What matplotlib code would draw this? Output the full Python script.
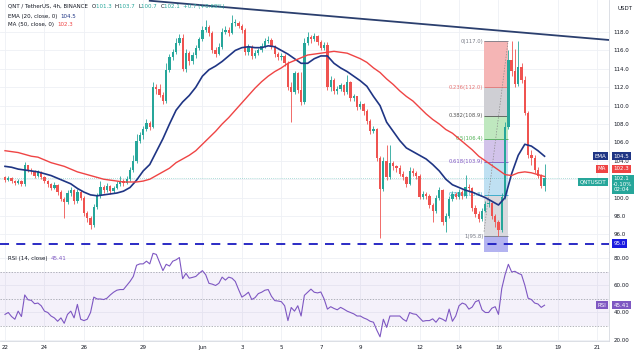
import numpy as np
import pandas as pd
import matplotlib
matplotlib.use('Agg')
import matplotlib.pyplot as plt
import matplotlib.dates as mdates
import matplotlib.transforms as mtransforms

# 4h candles, QNT/USDT
first_open = 102.2
closes = [101.9, 102.1, 101.8, 101.6, 101.8, 101.5, 103.5, 103.0, 102.9, 102.3,
          102.8, 102.2, 101.8, 101.5, 101.1, 101.4, 100.6, 99.9, 99.5, 100.5,
          100.8, 99.6, 100.6, 100.0, 98.3, 97.8, 97.0, 99.0, 100.2, 101.2,
          100.8, 101.3, 100.7, 101.1, 101.5, 101.8, 101.6, 102.0, 103.0, 104.0,
          106.2, 106.8, 107.5, 108.1, 107.7, 112.0, 111.8, 111.2, 110.5, 113.9,
          115.3, 115.8, 116.8, 117.3, 114.0, 115.7, 114.8, 115.5, 116.3, 117.2,
          118.2, 118.5, 117.9, 116.0, 115.6, 116.4, 118.0, 118.2, 117.9, 119.0,
          119.0, 118.7, 118.2, 115.8, 116.4, 115.4, 115.7, 116.0, 116.5, 117.0,
          117.1, 116.4, 115.6, 115.3, 115.4, 114.6, 112.0, 111.5, 113.5, 111.7,
          110.4, 116.8, 117.5, 117.2, 117.6, 116.9, 116.3, 116.6, 112.0, 112.8,
          111.6, 111.8, 112.2, 111.5, 112.6, 110.8, 111.0, 109.8, 110.2, 109.4,
          108.3, 107.2, 107.5, 104.3, 100.9, 104.0, 102.2, 103.8, 103.4, 103.2,
          102.6, 102.2, 101.5, 102.9, 102.7, 102.4, 100.1, 100.4, 100.2, 99.2,
          98.5, 100.0, 100.8, 97.3, 98.0, 99.9, 100.4, 100.1, 100.6, 100.2,
          101.2, 101.0, 98.9, 98.2, 97.7, 98.6, 99.3, 99.4, 98.0, 97.4,
          96.5, 100.1, 107.7, 115.0, 113.8, 112.3, 114.2, 112.8, 109.2, 104.6,
          104.3, 103.0, 102.4, 101.3, 102.1]
highs = [102.4, 102.3, 102.2, 101.9, 102.0, 101.9, 103.9, 103.6, 103.2, 103.0,
         103.0, 102.9, 102.4, 101.9, 101.6, 101.7, 101.5, 100.8, 100.1, 100.8,
         101.2, 100.9, 100.9, 100.8, 100.2, 98.6, 98.0, 99.3, 100.5, 101.8,
         101.4, 101.6, 101.4, 101.3, 101.8, 102.3, 102.0, 102.3, 103.3, 104.6,
         106.9, 107.1, 107.8, 108.5, 108.3, 112.6, 112.3, 112.4, 111.5, 114.6,
         115.6, 116.1, 117.3, 117.8, 117.8, 116.2, 115.9, 115.8, 116.6, 117.5,
         118.6, 119.3, 118.8, 118.1, 116.4, 116.8, 118.4, 118.7, 118.5, 119.8,
         119.4, 119.2, 118.9, 118.4, 116.7, 116.6, 116.0, 116.3, 116.8, 117.3,
         117.6, 117.4, 116.6, 115.8, 115.7, 115.6, 114.8, 112.6, 113.8, 113.7,
         113.6, 117.3, 118.0, 117.7, 117.9, 117.7, 117.1, 116.9, 116.9, 113.2,
         113.0, 112.1, 112.5, 112.4, 113.3, 112.7, 111.3, 111.1, 110.5, 110.3,
         109.6, 108.5, 107.8, 107.6, 104.5, 104.4, 105.7, 105.7, 104.0, 103.6,
         103.5, 102.9, 102.4, 103.3, 103.2, 102.9, 102.6, 100.7, 100.6, 100.4,
         99.4, 100.3, 101.2, 100.9, 98.3, 100.2, 100.7, 100.6, 100.9, 100.8,
         102.5, 101.5, 101.2, 99.2, 98.5, 98.9, 99.6, 99.8, 99.5, 98.2,
         97.6, 100.5, 108.2, 116.0, 117.0, 116.2, 117.0, 114.6, 113.2, 109.4,
         105.2, 104.6, 103.3, 102.6, 103.7]
lows = [101.7, 101.8, 101.6, 101.4, 101.5, 101.3, 101.3, 102.8, 102.6, 102.1,
        102.2, 102.0, 101.6, 101.2, 100.8, 100.9, 100.3, 99.6, 97.8, 99.3,
        100.2, 99.3, 99.4, 99.7, 98.0, 97.4, 96.6, 96.8, 98.8, 100.0,
        100.5, 100.6, 100.4, 100.5, 100.9, 101.3, 101.3, 101.5, 101.8, 102.8,
        103.8, 105.9, 106.4, 107.2, 107.3, 107.6, 111.3, 110.9, 110.2, 110.3,
        113.6, 115.0, 115.6, 116.6, 113.8, 113.7, 114.4, 114.5, 115.2, 116.0,
        117.0, 118.0, 117.6, 115.7, 115.3, 115.5, 116.2, 117.8, 117.6, 117.8,
        118.6, 118.4, 117.9, 115.5, 115.5, 115.1, 115.2, 115.5, 115.8, 116.3,
        116.8, 116.2, 115.3, 115.0, 115.0, 114.3, 111.7, 108.2, 111.3, 111.4,
        110.1, 110.2, 116.6, 116.8, 117.0, 116.6, 116.0, 116.0, 111.7, 111.6,
        111.3, 111.3, 111.6, 111.2, 111.3, 110.5, 110.5, 109.5, 109.6, 109.0,
        108.0, 106.9, 107.0, 104.0, 95.6, 100.7, 101.9, 102.0, 103.0, 102.8,
        102.3, 101.9, 101.2, 101.4, 102.4, 102.0, 99.8, 99.9, 99.9, 98.9,
        97.3, 98.3, 99.7, 97.0, 96.3, 97.8, 99.6, 99.8, 99.9, 99.9,
        100.0, 100.6, 98.6, 97.9, 97.4, 97.5, 98.4, 99.0, 97.7, 96.8,
        95.8, 96.3, 99.8, 107.5, 113.2, 112.0, 112.1, 112.5, 109.0, 104.3,
        103.6, 102.7, 102.1, 101.0, 100.7]

# EMA(20) and MA(50), read every second candle
ema20 = [103.4, 103.3, 103.1, 103.0, 102.9, 102.8, 102.6, 102.4, 102.1, 101.8,
         101.5, 101.0, 100.6, 100.3, 100.2, 100.3, 100.4, 100.5, 100.7, 101.1,
         101.9, 102.9, 103.6, 105.0, 106.4, 108.0, 109.5, 110.4, 111.1, 112.0,
         113.2, 113.9, 114.3, 114.8, 115.4, 116.0, 116.3, 116.4, 116.3, 116.3,
         116.5, 116.4, 116.0, 115.6, 115.1, 114.6, 114.6, 115.1, 115.4, 115.4,
         114.6, 114.1, 113.7, 113.2, 112.7, 112.1, 111.0, 110.0, 108.2, 107.2,
         106.2, 105.4, 105.0, 104.6, 104.2, 103.6, 102.9, 102.0, 101.4, 101.1,
         100.8, 100.6, 100.3, 100.0, 99.6, 99.2, 100.0, 102.6, 104.6, 105.8,
         105.6, 105.1, 104.5]
ma50 = [105.1, 105.0, 104.9, 104.7, 104.5, 104.4, 104.1, 103.8, 103.6, 103.4,
        103.1, 102.8, 102.6, 102.4, 102.2, 102.0, 101.9, 101.8, 101.7, 101.7,
        101.7, 101.8, 102.0, 102.4, 102.8, 103.2, 103.8, 104.2, 104.6, 105.1,
        105.8, 106.5, 107.2, 108.0, 108.7, 109.5, 110.3, 111.1, 111.9, 112.6,
        113.2, 113.7, 114.1, 114.6, 114.9, 115.2, 115.5, 115.6, 115.7, 115.8,
        115.9, 115.8, 115.7, 115.4, 115.1, 114.7, 114.1, 113.6, 112.9, 112.3,
        111.6, 111.0, 110.5, 109.8, 109.1, 108.5, 108.0, 107.4, 107.0, 106.4,
        105.8, 105.2, 104.5, 104.0, 103.5, 103.0, 102.5, 102.4, 102.7, 102.8,
        102.7, 102.5, 102.3]

rsi = [38.6, 40, 37, 35, 41, 37, 53, 49.4, 49, 46.5,
       47, 45, 41, 40, 37.4, 36, 33.5, 36, 32, 38.6,
       41, 36, 46, 35, 34, 35, 40, 51.4, 50, 50,
       49.6, 50.6, 53, 55, 56.5, 57, 57, 60, 63, 66.7,
       75, 76, 76, 78, 76, 83.8, 83, 77, 71, 75.7,
       74.4, 78, 79, 80.7, 65, 69, 65.4, 66, 66.7, 69,
       71, 68, 61.6, 61, 60, 61.6, 66.2, 64, 66.2, 65.4,
       63, 57, 51.4, 53, 55, 49.6, 51, 54, 55, 56.5,
       57, 52, 48.8, 48.5, 48, 45, 34, 43.7, 41, 45,
       37.4, 52.7, 55, 57.3, 55, 54.5, 55.2, 50, 42.5, 44.3,
       43, 42, 43.8, 42.5, 41, 40, 39, 37.4, 37.4, 36,
       35, 33.5, 32.8, 27, 22, 35, 29, 37.4, 37.4, 37.4,
       37.4, 35, 33.5, 40, 39, 38.6, 36, 33.5, 34, 34,
       35.3, 32.8, 36, 35, 33.5, 42.5, 33.5, 37.4, 45, 47,
       46, 42.5, 44, 48, 49, 42, 40, 40, 43.2, 44.3,
       38.6, 57.8, 68, 75.7, 70, 70.5, 69, 68, 60.3, 50.6,
       49.6, 47, 46.3, 43.8, 45.41]

fib_ratios = ['0', '0.236', '0.382', '0.5', '0.618', '0.786', '1']
fib_prices = [117.0, 112.0, 108.9, 106.4, 103.9, 100.3, 95.8]
fib_ext = 90.0
fib_start = '2022-06-15 06:24'
fib_end = '2022-06-16 11:36'
trend_pts = [('2022-05-29 08:00', 121.4), ('2022-06-22 08:00', 117.0)]
support = 95.0
last_price = 102.1

date_ticks = ['2022-05-22', '2022-05-24', '2022-05-26', '2022-05-29', '2022-06-01',
              '2022-06-03', '2022-06-05', '2022-06-07', '2022-06-09', '2022-06-12',
              '2022-06-14', '2022-06-16', '2022-06-19', '2022-06-21']
date_labels = ['22', '24', '26', '29', 'Jun', '3', '5', '7', '9', '12', '14', '16', '19', '21']
price_ticks = [96, 98, 100, 102, 104, 106, 108, 110, 112, 114, 116, 118]
price_labels = ['96.0', '98.0', '100.0', '', '104.0', '106.0', '108.0', '110.0',
                '112.0', '114.0', '116.0', '118.0']

UP, DOWN = '#26a69a', '#ef5350'
NAVY, RED, PURPLE, TXT = '#1f3584', '#ef4444', '#7e57c2', '#131722'
FS = 4

times = pd.date_range('2022-05-22 00:00', periods=len(closes), freq='4h')
x = mdates.date2num(times)
step = 4 / 24
opens = np.array([first_open] + closes[:-1])
closes_a = np.array(closes)
up = closes_a >= opens
colors = np.where(up, UP, DOWN)

fig = plt.figure(figsize=(6.4, 3.6), dpi=100)
ax = fig.add_axes([0, 0.3, 0.9516, 0.7])
rax = fig.add_axes([0, 0.0528, 0.9516, 0.2472], sharex=ax)

xmin = x[0] - 1.52 * step
xmax = x[0] + 183.6 * step
ax.set_xlim(xmin, xmax)
ax.set_ylim(94.09, 121.48)
rax.set_ylim(18.9, 84.8)

for a in (ax, rax):
    a.set_axisbelow(True)
    a.grid(color='#eef0f5', lw=0.6)
    for s in ('top', 'left'):
        a.spines[s].set_visible(False)
    for s in ('right', 'bottom'):
        a.spines[s].set_color('#d6d9e0')
        a.spines[s].set_linewidth(0.6)
    a.yaxis.tick_right()
    a.tick_params(axis='both', length=0, labelsize=FS, labelcolor=TXT, pad=3)

tick_x = mdates.date2num(pd.to_datetime(date_ticks))
rax.set_xticks(tick_x)
rax.set_xticklabels(date_labels)
ax.tick_params(axis='x', labelbottom=False)
ax.set_yticks(price_ticks)
ax.set_yticklabels(price_labels)
rax.set_yticks([20, 40, 60, 80])
rax.yaxis.set_major_formatter(matplotlib.ticker.FormatStrFormatter('%.2f'))

# fibonacci retracement
fx0 = mdates.date2num(pd.Timestamp(fib_start))
fx1 = mdates.date2num(pd.Timestamp(fib_end))
fill_cols = ['#f5b5b5', '#cfcfd4', '#bfe8bf', '#d2c3ea', '#bfe0f2', '#d9d9de']
line_cols = ['#787b86', '#e57373', '#555555', '#4caf50', '#7e57c2', '#26a6c9', '#787b86']
for k in range(len(fib_prices) - 1):
    ax.fill_between([fx0, fx1], fib_prices[k], fib_prices[k + 1], color=fill_cols[k],
                    lw=0, zorder=1)
ax.fill_between([fx0, fx1], fib_prices[-1], fib_ext, color='#b3b3f0', lw=0, zorder=1)
for r, p, c in zip(fib_ratios, fib_prices, line_cols):
    ax.hlines(p, fx0, fx1, color=c, lw=0.6, zorder=1.5)
    ax.text(fx0 - 0.03, p, f'{r}({p:.1f})', ha='right', va='center', fontsize=3.8,
            color=c, zorder=2)
ax.plot([fx0, fx1], [fib_prices[-1] + 0.5, fib_prices[0]], color='#8a8a8a', lw=0.5,
        ls=(0, (2, 2)), zorder=1.6)

# reference lines
ax.axhline(last_price, color=UP, lw=0.5, ls=(0, (1, 2)), alpha=0.7, zorder=1.2)
ax.axhline(support, color='#1a1ac0', lw=1.3, ls=(0, (5, 4)), zorder=2)
tx = mdates.date2num(pd.to_datetime([p[0] for p in trend_pts]))
ax.plot(tx, [p[1] for p in trend_pts], color='#2b3f6e', lw=1.3, zorder=2)

# candles
w = step * 0.7
ax.vlines(x, lows, highs, colors=colors, lw=0.6, zorder=3)
body = np.maximum(np.abs(closes_a - opens), 0.08)
ax.bar(x, body, bottom=np.minimum(opens, closes_a), width=w, color=colors, lw=0, zorder=3)

# moving averages
ax.plot(x[::2], ema20, color=NAVY, lw=1.2, zorder=4)
ax.plot(x[::2], ma50, color=RED, lw=1.0, zorder=4)

# RSI panel
rax.fill_between([xmin, xmax], 30, 70, color=PURPLE, alpha=0.08, lw=0)
for lvl in (70, 50, 30):
    rax.axhline(lvl, color='#9598a1', lw=0.5, ls=(0, (2, 2)))
rax.plot(x, rsi, color=PURPLE, lw=0.8)


def chain(a, pieces, x0, y0):
    t = a.text(x0, y0, pieces[0][0], color=pieces[0][1], transform=a.transAxes,
               fontsize=FS, va='top', ha='left')
    for s, c in pieces[1:]:
        t = a.annotate(s, xy=(1, 0), xycoords=t, color=c, fontsize=FS, va='bottom')
    return t


chain(ax, [('QNT / TetherUS, 4h, BINANCE  ', TXT), ('O', TXT), ('101.3  ', UP),
           ('H', TXT), ('103.7  ', UP), ('L', TXT), ('100.7  ', UP), ('C', TXT),
           ('102.1  ', UP), ('+0.7 (+0.69%)', UP)], 0.013, 0.985)
chain(ax, [('EMA (20, close, 0)  ', TXT), ('104.5', NAVY)], 0.013, 0.945)
chain(ax, [('MA (50, close, 0)  ', TXT), ('102.3', RED)], 0.013, 0.913)
chain(rax, [('RSI (14, close)  ', TXT), ('45.41', PURPLE)], 0.013, 0.95)


def tag(a, y, s, fc, side='axis', dy=0, va='center'):
    if side == 'axis':
        xp, ha = 1.0, 'left'
        off = 3
    else:
        xp, ha = 1.0, 'right'
        off = -2
    a.annotate(s, xy=(xp, y), xycoords=mtransforms.blended_transform_factory(a.transAxes, a.transData),
               xytext=(off, dy), textcoords='offset points', ha=ha, va=va, fontsize=FS,
               color='white', linespacing=1.1, annotation_clip=False, zorder=6,
               bbox=dict(boxstyle='square,pad=0.3', fc=fc, ec='none'))


tag(ax, 104.5, '104.5', NAVY)
tag(ax, 104.5, 'EMA', NAVY, side='left')
tag(ax, 102.3, '102.3', RED, dy=5.5)
tag(ax, 102.3, 'MA', RED, side='left', dy=5.5)
tag(ax, 102.1, '102.1\n-0.10%\n02:04', UP, dy=1.5, va='top')
tag(ax, 102.1, 'QNTUSDT', UP, side='left', dy=-2.5)
tag(ax, support, '95.0', '#1a1ae0')
tag(rax, 45.41, '45.41', PURPLE)
tag(rax, 45.41, 'RSI', PURPLE, side='left')

fig.text(625 / 640, 1 - 8 / 360, 'USDT', fontsize=FS, ha='center', va='center', color=TXT)

fig.savefig('out.png', dpi=100)
